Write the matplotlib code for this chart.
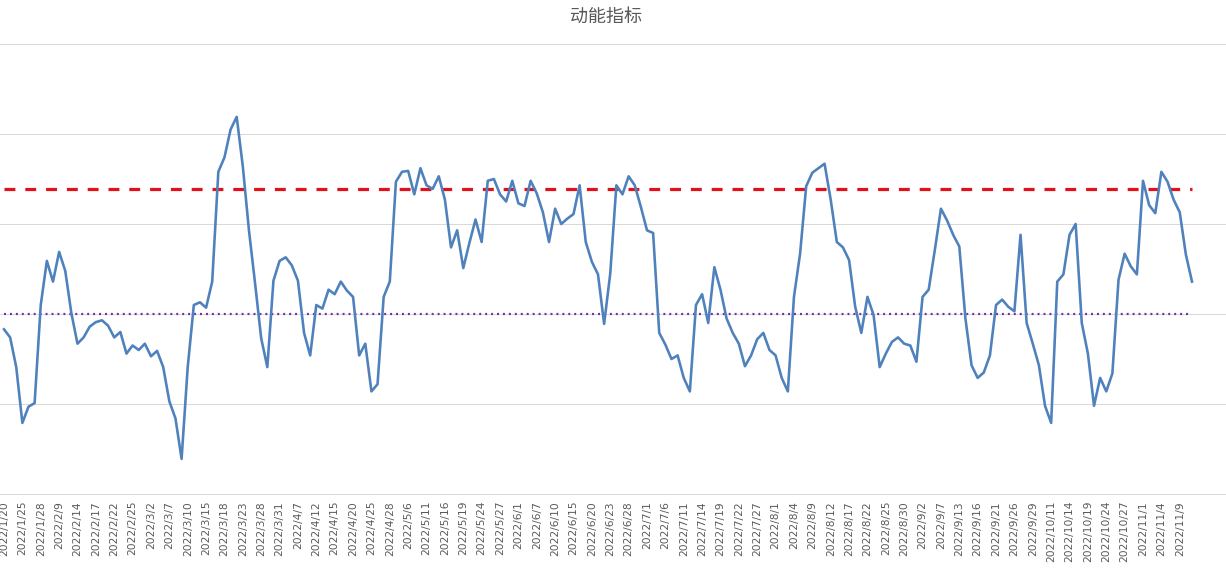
import matplotlib
matplotlib.use("Agg")
import matplotlib.pyplot as plt
import pandas as pd

# ---- data -------------------------------------------------------------
start_date = "2022-01-20"
end_date = "2022-11-11"
holidays = ["2022-01-31", "2022-02-01", "2022-02-02", "2022-02-03", "2022-02-04",
            "2022-04-04", "2022-04-05", "2022-05-02", "2022-05-03", "2022-05-04",
            "2022-06-03", "2022-09-12", "2022-10-03", "2022-10-04", "2022-10-05",
            "2022-10-06", "2022-10-07"]

momentum = [
    -0.17, -0.26, -0.59, -1.21, -1.03, -0.99, 0.10, 0.59, 0.36, 0.69,
    0.48, 0.01, -0.33, -0.26, -0.14, -0.09, -0.07, -0.13, -0.26, -0.20,
    -0.44, -0.35, -0.40, -0.33, -0.47, -0.41, -0.59, -0.97, -1.16, -1.61,
    -0.59, 0.10, 0.13, 0.07, 0.36, 1.58, 1.74, 2.05, 2.19, 1.64,
    0.93, 0.34, -0.27, -0.59, 0.37, 0.59, 0.63, 0.54, 0.37, -0.21,
    -0.46, 0.10, 0.06, 0.27, 0.22, 0.36, 0.26, 0.19, -0.46, -0.33,
    -0.86, -0.78, 0.19, 0.36, 1.47, 1.58, 1.59, 1.33, 1.62, 1.43,
    1.39, 1.53, 1.27, 0.74, 0.93, 0.51, 0.79, 1.05, 0.80, 1.48,
    1.50, 1.33, 1.25, 1.48, 1.23, 1.20, 1.48, 1.34, 1.13, 0.80,
    1.17, 1.00, 1.06, 1.11, 1.43, 0.80, 0.58, 0.44, -0.11, 0.45,
    1.43, 1.33, 1.53, 1.43, 1.19, 0.93, 0.90, -0.21, -0.34, -0.50,
    -0.46, -0.71, -0.86, 0.10, 0.22, -0.10, 0.52, 0.27, -0.05, -0.21,
    -0.33, -0.58, -0.46, -0.28, -0.21, -0.40, -0.46, -0.71, -0.86, 0.19,
    0.67, 1.42, 1.57, 1.62, 1.67, 1.27, 0.80, 0.74, 0.60, 0.08,
    -0.21, 0.19, -0.01, -0.59, -0.44, -0.31, -0.26, -0.33, -0.35, -0.53,
    0.19, 0.27, 0.71, 1.17, 1.04, 0.88, 0.75, -0.05, -0.57, -0.71,
    -0.65, -0.46, 0.10, 0.16, 0.08, 0.03, 0.88, -0.10, -0.33, -0.57,
    -1.02, -1.21, 0.36, 0.44, 0.88, 1.00, -0.10, -0.44, -1.02, -0.71,
    -0.86, -0.66, 0.38, 0.67, 0.53, 0.44, 1.48, 1.21, 1.12, 1.58,
    1.47, 1.27, 1.13, 0.66, 0.36,
]
upper_threshold = 1.39
lower_threshold = 0.0
y_grid = [-2, -1, 0, 1, 2, 3]
title = "动能指标"

# ---- categories -------------------------------------------------------
dates = pd.bdate_range(start_date, end_date, freq="C", holidays=holidays)
dates = dates[:len(momentum)]
date_labels = [f"{d.year}/{d.month}/{d.day}" for d in dates]
x = list(range(len(momentum)))
tick_pos = x[::3]
tick_lab = date_labels[::3]

# ---- plot -------------------------------------------------------------
fig = plt.figure(figsize=(12.26, 5.68), dpi=100)
ax = fig.add_axes([0.0, 74 / 568, 1.0, 450 / 568])

px = 1.0 / 100 * 72  # one pixel in points

ax.set_axisbelow(True)
ax.grid(axis="y", color="#d9d9d9", linewidth=1 * px)
ax.grid(axis="x", visible=False)

ax.plot(x, momentum, color="#4f81bd", linewidth=2.6 * px, solid_joinstyle="round", zorder=3)
ax.hlines(upper_threshold, 0, len(x) - 1, colors="#e0101c", linewidth=3.2 * px,
          linestyles=(0, (3.4, 3.1)), zorder=2)
ax.hlines(lower_threshold, 0, len(x) - 1, colors="#7030a0", linewidth=2.2 * px,
          linestyles=(0, (0.9, 1.8)), zorder=2)

ax.set_xlim(-4 / 6.1237, (1226 - 4) / 6.1237)
ax.set_ylim(y_grid[0], y_grid[-1])
ax.set_yticks(y_grid)
ax.set_yticklabels([])
ax.tick_params(axis="y", length=0)

ax.set_xticks(tick_pos)
ax.set_xticklabels(tick_lab, rotation=90, fontsize=7.7, color="#595959",
                   family="DejaVu Sans")
ax.tick_params(axis="x", length=0, pad=5)

for s in ["top", "left", "right"]:
    ax.spines[s].set_visible(False)
ax.spines["bottom"].set_color("#d9d9d9")
ax.spines["bottom"].set_linewidth(1 * px)

fig.text(606 / 1226, 1 - 17 / 568, title, ha="center", va="center",
         fontsize=13, color="#595959", family=["Noto Sans CJK SC", "DejaVu Sans"])

fig.savefig("out.png", dpi=100, facecolor="white")
